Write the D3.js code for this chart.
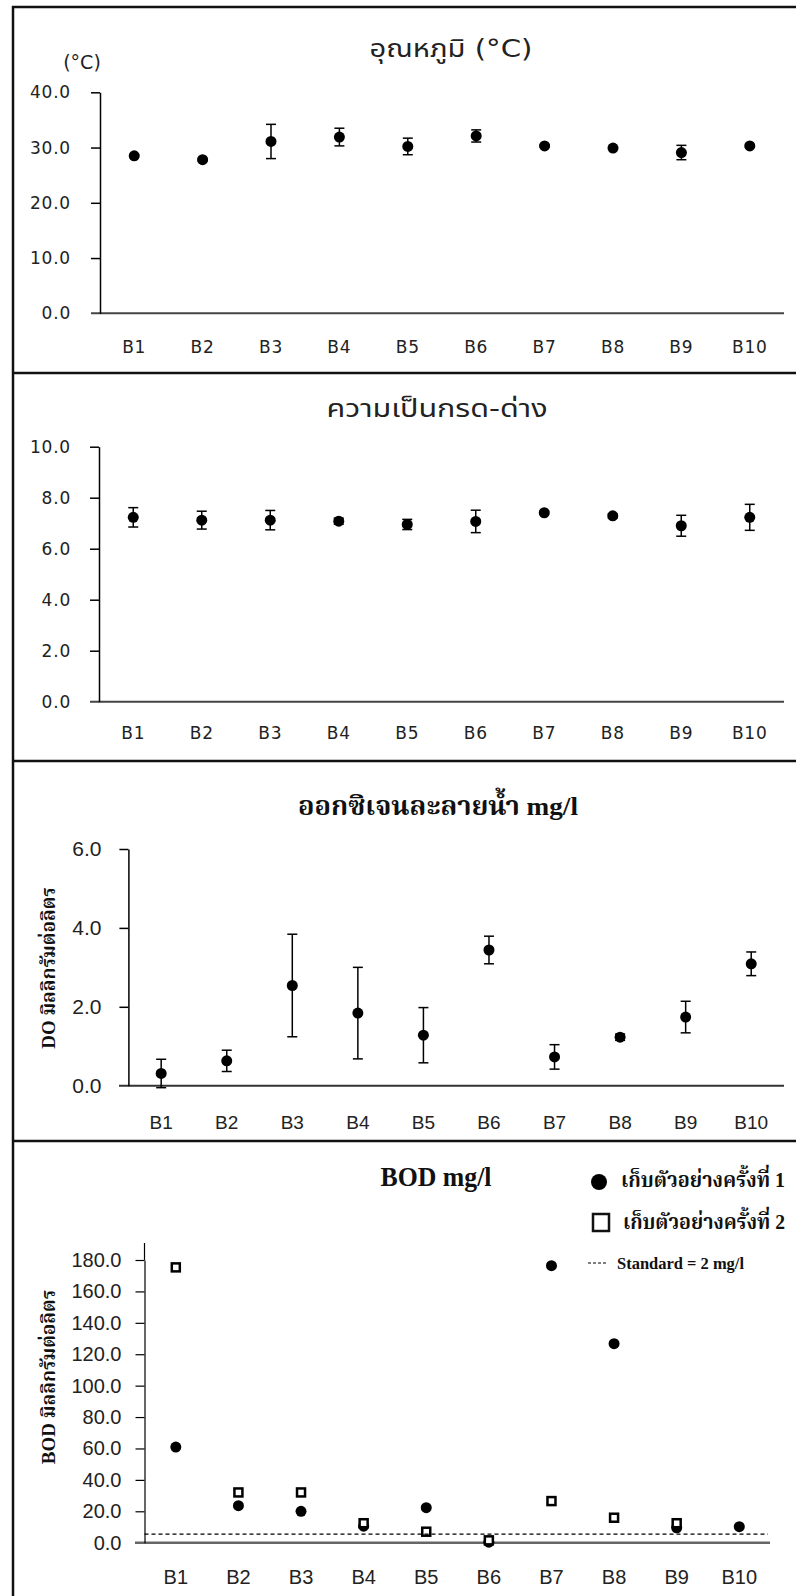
<!DOCTYPE html>
<html>
<head>
<meta charset="utf-8">
<script src="https://cdn.jsdelivr.net/npm/d3@7"></script>
<style>
  body { margin: 0; background: #fff; }
  svg { display: block; }
</style>
</head>
<body>
<script>
const categories = ["B1", "B2", "B3", "B4", "B5", "B6", "B7", "B8", "B9", "B10"];

// temperature (°C), mean +- error
const tempMean = [28.5, 27.8, 31.1, 31.9, 30.2, 32.1, 30.3, 29.9, 29.1, 30.3];
const tempErr = [0.2, 0.2, 3.1, 1.6, 1.5, 1.1, 0.2, 0.2, 1.3, 0.2];
const tempTicks = [0, 10, 20, 30, 40];

// pH
const phMean = [7.23, 7.12, 7.12, 7.08, 6.95, 7.07, 7.41, 7.29, 6.90, 7.23];
const phErr = [0.38, 0.35, 0.38, 0.12, 0.2, 0.44, 0.05, 0.08, 0.41, 0.51];
const phTicks = [0, 2, 4, 6, 8, 10];

// dissolved oxygen (mg/l)
const doMean = [0.31, 0.63, 2.54, 1.84, 1.28, 3.44, 0.73, 1.23, 1.74, 3.09];
const doErr = [0.36, 0.27, 1.3, 1.16, 0.7, 0.35, 0.31, 0.08, 0.4, 0.3];
const doTicks = [0, 2, 4, 6];

// BOD (mg/l), two sampling rounds
const bodFirst = [60.9, 23.6, 20.0, 10.5, 22.3, 0.3, 176.4, 126.7, 9.5, 10.2];
const bodSecond = [175.3, 32.0, 32.0, 12.4, 7.0, 1.5, 26.5, 15.9, 12.4, null];
const bodTicks = [0, 20, 40, 60, 80, 100, 120, 140, 160, 180];
const bodStandard = 5.5;

const titles = ["อุณหภูมิ (°C)", "ความเป็นกรด-ด่าง", "ออกซิเจนละลายน้ำ mg/l", "BOD mg/l"];
const legendLabels = ["เก็บตัวอย่างครั้งที่ 1", "เก็บตัวอย่างครั้งที่ 2", "Standard = 2 mg/l"];

const sansFont = "'DejaVu Sans', 'Noto Sans Thai', 'Loma', 'Garuda', sans-serif";
const narrowFont = "'Liberation Sans', Arial, 'Noto Sans Thai', sans-serif";
const serifFont = "'Liberation Serif', 'Times New Roman', 'Noto Serif Thai', 'Norasi', serif";

const width = 796, height = 1596;
const svg = d3.select("body").append("svg")
  .attr("width", width)
  .attr("height", height);

// frame + separators
svg.append("line").attr("x1", 13).attr("x2", 13).attr("y1", 6).attr("y2", height)
  .attr("stroke", "#111").attr("stroke-width", 2.5);
[7, 373, 761, 1141].forEach(yy => {
  svg.append("line").attr("x1", 12).attr("x2", width).attr("y1", yy).attr("y2", yy)
    .attr("stroke", "#111").attr("stroke-width", 2.5);
});

function drawPanel(c) {
  const x = d3.scaleBand().domain(categories).range([c.x0, c.x1]);
  const y = d3.scaleLinear().domain([0, c.yMax]).range([c.yBottom, c.yTop]);
  const g = svg.append("g");

  // x axis baseline
  g.append("line")
    .attr("x1", c.xAxisStart).attr("x2", c.xAxisEnd)
    .attr("y1", y(0)).attr("y2", y(0))
    .attr("stroke", c.xAxisColor).attr("stroke-width", c.xAxisWidth);

  const yAxis = g.append("g")
    .attr("transform", `translate(${c.x0},0)`)
    .call(d3.axisLeft(y).tickValues(c.ticks).tickFormat(d3.format(".1f"))
      .tickSize(c.tickSize).tickSizeOuter(0).tickPadding(c.tickPad));
  yAxis.select(".domain").attr("stroke", "#000").attr("stroke-width", c.yAxisWidth);
  yAxis.selectAll(".tick line").attr("stroke", "#000").attr("stroke-width", c.yAxisWidth);
  yAxis.selectAll(".tick").filter(d => d === 0).select("line").remove();
  yAxis.selectAll("text")
    .attr("font-family", c.font).attr("font-size", c.fontSize)
    .attr("fill", "#222").attr("letter-spacing", c.spacing || 0);

  if (c.domainTop) {
    g.append("line").attr("x1", c.x0).attr("x2", c.x0)
      .attr("y1", y(c.yMax)).attr("y2", c.domainTop)
      .attr("stroke", "#000").attr("stroke-width", c.yAxisWidth);
  }

  const xAxis = g.append("g")
    .attr("transform", `translate(0,${c.xLabelY})`)
    .call(d3.axisBottom(x).tickSize(0).tickPadding(0));
  xAxis.select(".domain").remove();
  xAxis.selectAll("text")
    .attr("y", 0).attr("dy", "0.36em")
    .attr("font-family", c.font).attr("font-size", c.xFontSize || c.fontSize)
    .attr("fill", "#222").attr("letter-spacing", c.spacing || 0);

  return { x, y, g };
}

function errorMarks(p, mean, err, r) {
  const data = categories.map((k, i) => ({ k, m: mean[i], e: err[i] }));
  const cx = d => p.x(d.k) + p.x.bandwidth() / 2;
  const bars = p.g.append("g").attr("stroke", "#000").attr("stroke-width", 1.5);
  bars.selectAll(".stem").data(data).join("line")
    .attr("x1", cx).attr("x2", cx)
    .attr("y1", d => p.y(d.m - d.e)).attr("y2", d => p.y(d.m + d.e));
  bars.selectAll(".capTop").data(data).join("line")
    .attr("x1", d => cx(d) - 5).attr("x2", d => cx(d) + 5)
    .attr("y1", d => p.y(d.m + d.e)).attr("y2", d => p.y(d.m + d.e));
  bars.selectAll(".capBot").data(data).join("line")
    .attr("x1", d => cx(d) - 5).attr("x2", d => cx(d) + 5)
    .attr("y1", d => p.y(d.m - d.e)).attr("y2", d => p.y(d.m - d.e));
  p.g.append("g").selectAll("circle").data(data).join("circle")
    .attr("cx", cx).attr("cy", d => p.y(d.m)).attr("r", r).attr("fill", "#000");
}

function title(txt, x, y, font, size, len, bold) {
  return svg.append("text").attr("x", x).attr("y", y).attr("dy", "0.35em")
    .attr("text-anchor", "middle").attr("font-family", font).attr("font-size", size)
    .attr("font-weight", bold ? "bold" : "normal")
    .attr("textLength", len).attr("lengthAdjust", "spacingAndGlyphs")
    .attr("fill", bold ? "#111" : "#222").text(txt);
}

// ---- panel 1: temperature
const p1 = drawPanel({
  x0: 100, x1: 784, yBottom: 313.3, yTop: 92.3, yMax: 40, ticks: tempTicks,
  tickSize: 9, tickPad: 20, font: sansFont, fontSize: 17, spacing: 0.8,
  xLabelY: 347, xAxisStart: 91, xAxisEnd: 784, xAxisColor: "#444", xAxisWidth: 2, yAxisWidth: 1.5
});
errorMarks(p1, tempMean, tempErr, 5.5);
title(titles[0], 451, 49, sansFont, 24, 163, false);
svg.append("text").attr("x", 82).attr("y", 62).attr("dy", "0.35em")
  .attr("text-anchor", "middle").attr("font-family", sansFont).attr("font-size", 19)
  .attr("fill", "#222").text("(°C)");

// ---- panel 2: pH
const p2 = drawPanel({
  x0: 99, x1: 784, yBottom: 701.7, yTop: 446.7, yMax: 10, ticks: phTicks,
  tickSize: 9, tickPad: 19, font: sansFont, fontSize: 17, spacing: 0.8,
  xLabelY: 733, xAxisStart: 90, xAxisEnd: 784, xAxisColor: "#444", xAxisWidth: 2, yAxisWidth: 1.5
});
errorMarks(p2, phMean, phErr, 5.5);
title(titles[1], 437, 408, sansFont, 25, 221, false);

// ---- panel 3: DO
const p3 = drawPanel({
  x0: 128.4, x1: 784, yBottom: 1085.7, yTop: 849, yMax: 6, ticks: doTicks,
  tickSize: 9, tickPad: 18, font: narrowFont, fontSize: 21, xFontSize: 19,
  xLabelY: 1122, xAxisStart: 119, xAxisEnd: 784, xAxisColor: "#333", xAxisWidth: 2, yAxisWidth: 1.5
});
errorMarks(p3, doMean, doErr, 5.5);
title(titles[2], 438, 806, serifFont, 26, 280, true);
svg.append("text").attr("transform", "translate(48,968) rotate(-90)").attr("dy", "0.35em")
  .attr("text-anchor", "middle").attr("font-family", serifFont).attr("font-size", 19)
  .attr("font-weight", "bold").attr("fill", "#111").text("DO มิลลิกรัมต่อลิตร");

// ---- panel 4: BOD
const p4 = drawPanel({
  x0: 144.5, x1: 770.6, yBottom: 1542.7, yTop: 1260, yMax: 180, ticks: bodTicks,
  tickSize: 9, tickPad: 14, font: narrowFont, fontSize: 20, xFontSize: 20,
  xLabelY: 1577, xAxisStart: 135, xAxisEnd: 770, xAxisColor: "#666", xAxisWidth: 2.5, yAxisWidth: 1.2,
  domainTop: 1243
});
const bx = k => p4.x(k) + p4.x.bandwidth() / 2;
p4.g.append("g").selectAll("circle")
  .data(categories.map((k, i) => ({ k, v: bodFirst[i] })).filter(d => d.v != null))
  .join("circle")
  .attr("cx", d => bx(d.k)).attr("cy", d => p4.y(d.v)).attr("r", 5.5).attr("fill", "#000");
p4.g.append("g").selectAll("rect")
  .data(categories.map((k, i) => ({ k, v: bodSecond[i] })).filter(d => d.v != null))
  .join("rect")
  .attr("x", d => bx(d.k) - 4).attr("y", d => p4.y(d.v) - 4)
  .attr("width", 8).attr("height", 8)
  .attr("fill", "#fff").attr("stroke", "#000").attr("stroke-width", 2.5);
p4.g.append("line")
  .attr("x1", p4.x.range()[0]).attr("x2", 768)
  .attr("y1", p4.y(bodStandard)).attr("y2", p4.y(bodStandard))
  .attr("stroke", "#000").attr("stroke-width", 1.2).attr("stroke-dasharray", "4,3");

title(titles[3], 436, 1177, serifFont, 27, 111, true);
svg.append("text").attr("transform", "translate(48,1377) rotate(-90)").attr("dy", "0.35em")
  .attr("text-anchor", "middle").attr("font-family", serifFont).attr("font-size", 19)
  .attr("font-weight", "bold").attr("fill", "#111").text("BOD มิลลิกรัมต่อลิตร");

// legend
const legend = svg.append("g");
legend.append("circle").attr("cx", 599).attr("cy", 1182).attr("r", 8).attr("fill", "#000");
legend.append("rect").attr("x", 593).attr("y", 1214).attr("width", 16).attr("height", 17)
  .attr("fill", "#fff").attr("stroke", "#111").attr("stroke-width", 2.5);
legend.append("line").attr("x1", 588).attr("x2", 608).attr("y1", 1263).attr("y2", 1263)
  .attr("stroke", "#000").attr("stroke-width", 1.2).attr("stroke-dasharray", "3,2");
legend.selectAll("text")
  .data(legendLabels)
  .join("text")
  .attr("x", (d, i) => [621, 623, 617][i])
  .attr("y", (d, i) => [1180, 1222, 1263][i])
  .attr("dy", "0.35em")
  .attr("font-family", serifFont)
  .attr("font-weight", "bold")
  .attr("font-size", (d, i) => i < 2 ? 21 : 17)
  .attr("textLength", (d, i) => [164, 162, 127][i])
  .attr("lengthAdjust", "spacingAndGlyphs")
  .attr("fill", "#111")
  .text(d => d);
</script>
</body>
</html>
